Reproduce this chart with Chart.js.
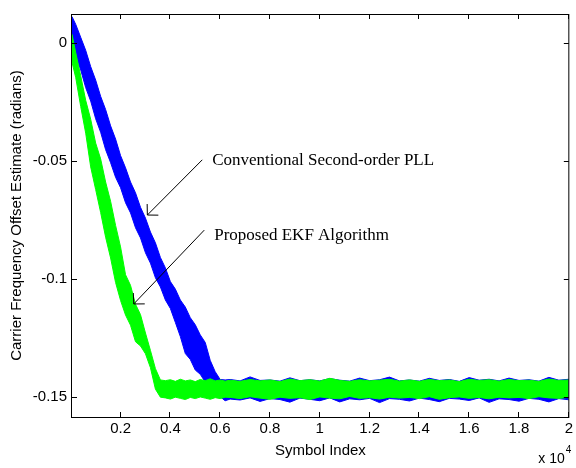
<!DOCTYPE html>
<html>
<head>
<meta charset="utf-8">
<script src="https://cdn.jsdelivr.net/npm/chart.js@4.4.1/dist/chart.umd.min.js"></script>
<style>
  html, body { margin: 0; padding: 0; background: #fff; }
</style>
</head>
<body>
<canvas id="offset-chart" width="576" height="468"></canvas>
<script>
// symbol index grid (dense while converging, coarser once settled)
const SYMBOL_INDEX = [
  50, 200, 400, 600, 800, 1000, 1200, 1400, 1600, 1800, 2000, 2200, 2400, 2600, 2800, 3000,
  3200, 3400, 3600, 3800, 4000, 4200, 4400, 4600, 4800, 5000, 5200, 5400, 5600, 5800, 6000, 6200,
  6400, 6800, 7200, 7600, 8000, 8400, 8800, 9200, 9600, 10000, 10400, 10800, 11200, 11600, 12000,
  12400, 12800, 13200, 13600, 14000, 14400, 14800, 15200, 15600, 16000, 16400, 16800, 17200, 17600,
  18000, 18400, 18800, 19200, 19600, 20000
];

// noisy band of the conventional PLL estimate: upper and lower edge
const PLL_UPPER = [
  0.0113, 0.0080, 0.0025, -0.0030, -0.0099, -0.0156, -0.0225, -0.0281, -0.0350, -0.0406, -0.0476,
  -0.0528, -0.0588, -0.0634, -0.0695, -0.0741, -0.0800, -0.0846, -0.0908, -0.0952, -0.1010, -0.1042,
  -0.1088, -0.1118, -0.1163, -0.1193, -0.1236, -0.1268, -0.1344, -0.1392, -0.1425, -0.1427,
  -0.1425, -0.1431, -0.1414, -0.1429, -0.1427, -0.1432, -0.1418, -0.1430, -0.1426, -0.1431, -0.1421,
  -0.1428, -0.1432, -0.1419, -0.1430, -0.1426, -0.1415, -0.1431, -0.1427, -0.1432, -0.1420, -0.1429,
  -0.1425, -0.1433, -0.1417, -0.1428, -0.1424, -0.1431, -0.1419, -0.1429, -0.1426, -0.1432, -0.1416,
  -0.1428, -0.1424
];
const PLL_LOWER = [
  -0.0004, -0.0056, -0.0113, -0.0188, -0.0245, -0.0320, -0.0377, -0.0451, -0.0506, -0.0568, -0.0612,
  -0.0676, -0.0719, -0.0782, -0.0825, -0.0888, -0.0932, -0.0994, -0.1033, -0.1088, -0.1124, -0.1183,
  -0.1243, -0.1315, -0.1340, -0.1385, -0.1403, -0.1436, -0.1450, -0.1480, -0.1498, -0.1515,
  -0.1508, -0.1512, -0.1503, -0.1518, -0.1506, -0.1510, -0.1521, -0.1504, -0.1509, -0.1515, -0.1503,
  -0.1520, -0.1507, -0.1511, -0.1505, -0.1523, -0.1506, -0.1509, -0.1516, -0.1504, -0.1510, -0.1519,
  -0.1505, -0.1508, -0.1514, -0.1503, -0.1522, -0.1507, -0.1510, -0.1517, -0.1505, -0.1509, -0.1520,
  -0.1506, -0.1511
];

// noisy band of the proposed EKF estimate: upper and lower edge
const EKF_UPPER = [
  0.0038, -0.0040, -0.0138, -0.0242, -0.0322, -0.0423, -0.0490, -0.0588, -0.0670, -0.0772, -0.0863,
  -0.0981, -0.1026, -0.1106, -0.1150, -0.1228, -0.1302, -0.1379, -0.1427,
  -0.1430, -0.1426, -0.1433, -0.1424, -0.1431, -0.1427, -0.1434, -0.1425, -0.1430, -0.1422, -0.1431,
  -0.1427, -0.1432,
  -0.1428, -0.1433, -0.1425, -0.1431, -0.1427, -0.1434, -0.1423, -0.1430, -0.1426, -0.1432, -0.1420,
  -0.1429, -0.1433, -0.1426, -0.1431, -0.1428, -0.1424, -0.1432, -0.1427, -0.1433, -0.1425, -0.1430,
  -0.1427, -0.1434, -0.1424, -0.1429, -0.1426, -0.1432, -0.1425, -0.1430, -0.1428, -0.1433, -0.1423,
  -0.1429, -0.1427
];
const EKF_LOWER = [
  -0.0080, -0.0146, -0.0268, -0.0381, -0.0524, -0.0620, -0.0717, -0.0822, -0.0910, -0.1014, -0.1090,
  -0.1152, -0.1195, -0.1265, -0.1283, -0.1316, -0.1375, -0.1466, -0.1500,
  -0.1503, -0.1508, -0.1500, -0.1505, -0.1510, -0.1501, -0.1506, -0.1499, -0.1504, -0.1509, -0.1502,
  -0.1506, -0.1500,
  -0.1501, -0.1506, -0.1498, -0.1504, -0.1509, -0.1500, -0.1505, -0.1502, -0.1510, -0.1499, -0.1504,
  -0.1507, -0.1497, -0.1505, -0.1502, -0.1508, -0.1500, -0.1504, -0.1501, -0.1506, -0.1498, -0.1509,
  -0.1502, -0.1499, -0.1505, -0.1501, -0.1507, -0.1500, -0.1503, -0.1501, -0.1506, -0.1498, -0.1503,
  -0.1505, -0.1501
];

const X_TICKS = [2000, 4000, 6000, 8000, 10000, 12000, 14000, 16000, 18000, 20000];
const Y_TICKS = [-0.15, -0.1, -0.05, 0];
const X_RANGE = [50, 20000];
const Y_RANGE = [-0.1584, 0.0124];

// text callouts: label position and arrow start / tip, in data units
const CALLOUT_TEXT = ['Conventional Second-order PLL', 'Proposed EKF Algorithm'];
const CALLOUT_LABEL = [[5680, -0.0499], [5760, -0.0813]];
const CALLOUT_FROM = [[5281, -0.0494], [5361, -0.0792]];
const CALLOUT_TIP = [[3076, -0.0728], [2529, -0.1105]];

const BLUE = '#0000ff';
const GREEN = '#00ff00';
const SANS = '"Liberation Sans", Arial, sans-serif';
const SERIF = '"Liberation Serif", "Times New Roman", serif';

const toPoints = (ys) => ys.map((v, i) => ({ x: SYMBOL_INDEX[i], y: v }));

function bandEdge(label, ys, color, fill) {
  return {
    label,
    data: toPoints(ys),
    borderColor: color,
    backgroundColor: color,
    borderWidth: 1,
    pointRadius: 0,
    tension: 0,
    fill,
  };
}

// box + inward ticks, callouts and the exponent note (MATLAB look)
const matlabFramePlugin = {
  id: 'matlabFrame',
  afterDraw(chart) {
    const { ctx, chartArea: a, scales: { x, y } } = chart;
    const tickLen = 5;
    ctx.save();
    ctx.strokeStyle = '#000';
    ctx.lineWidth = 1;
    ctx.strokeRect(a.left - 0.5, a.top + 0.5, a.right - a.left + 0.5, a.bottom - a.top);
    ctx.beginPath();
    X_TICKS.forEach(v => {
      const px = Math.round(x.getPixelForValue(v)) - 0.5;
      ctx.moveTo(px, a.bottom); ctx.lineTo(px, a.bottom - tickLen);
      ctx.moveTo(px, a.top); ctx.lineTo(px, a.top + tickLen);
    });
    Y_TICKS.forEach(v => {
      const py = Math.round(y.getPixelForValue(v)) + 0.5;
      ctx.moveTo(a.left, py); ctx.lineTo(a.left + tickLen, py);
      ctx.moveTo(a.right, py); ctx.lineTo(a.right - tickLen, py);
    });
    ctx.stroke();

    // callouts
    ctx.fillStyle = '#000';
    ctx.font = '17px ' + SERIF;
    ctx.textBaseline = 'middle';
    ctx.textAlign = 'left';
    CALLOUT_TEXT.forEach((txt, i) => {
      ctx.fillText(txt, x.getPixelForValue(CALLOUT_LABEL[i][0]), y.getPixelForValue(CALLOUT_LABEL[i][1]));
      const x0 = x.getPixelForValue(CALLOUT_FROM[i][0]);
      const y0 = y.getPixelForValue(CALLOUT_FROM[i][1]);
      const x1 = x.getPixelForValue(CALLOUT_TIP[i][0]);
      const y1 = y.getPixelForValue(CALLOUT_TIP[i][1]);
      const ang = Math.atan2(y0 - y1, x0 - x1);
      const head = 11;
      ctx.beginPath();
      ctx.moveTo(x0, y0); ctx.lineTo(x1, y1);
      ctx.moveTo(x1 + head * Math.cos(ang - 0.8), y1 + head * Math.sin(ang - 0.8));
      ctx.lineTo(x1, y1);
      ctx.lineTo(x1 + head * Math.cos(ang + 0.8), y1 + head * Math.sin(ang + 0.8));
      ctx.stroke();
    });

    // x 10^4
    ctx.font = '14px ' + SANS;
    ctx.textBaseline = 'alphabetic';
    ctx.textAlign = 'right';
    ctx.fillText('x 10', a.right - 4, a.bottom + 46);
    ctx.font = '10px ' + SANS;
    ctx.textAlign = 'left';
    ctx.fillText('4', a.right - 3, a.bottom + 36);
    ctx.restore();
  }
};

const offsetChartConfig = {
  type: 'line',
  data: {
    datasets: [
      bandEdge('Proposed EKF Algorithm', EKF_UPPER, GREEN, '+1'),
      bandEdge('EKF lower', EKF_LOWER, GREEN, false),
      bandEdge('Conventional Second-order PLL', PLL_UPPER, BLUE, '+1'),
      bandEdge('PLL lower', PLL_LOWER, BLUE, false),
    ],
  },
  options: {
    responsive: false,
    animation: false,
    layout: { padding: { top: 10, right: 4, left: 0, bottom: 0 } },
    plugins: {
      legend: { display: false },
      tooltip: { enabled: false },
    },
    scales: {
      x: {
        type: 'linear',
        min: X_RANGE[0],
        max: X_RANGE[1],
        afterFit(scale) { scale.height = 51; },
        afterBuildTicks(scale) { scale.ticks = X_TICKS.map(v => ({ value: v })); },
        grid: { display: false, drawTicks: false },
        border: { display: false },
        ticks: {
          color: '#000',
          padding: 3,
          maxRotation: 0,
          autoSkip: false,
          font: { family: SANS, size: 15 },
          callback: (v) => String(Number((v / 1e4).toFixed(1))),
        },
        title: {
          display: true,
          text: 'Symbol Index',
          color: '#000',
          padding: { top: 0, bottom: 8 },
          font: { family: SANS, size: 15 },
        },
      },
      y: {
        type: 'linear',
        min: Y_RANGE[0],
        max: Y_RANGE[1],
        afterFit(scale) { scale.width = 72; },
        afterBuildTicks(scale) { scale.ticks = Y_TICKS.map(v => ({ value: v })); },
        grid: { display: false, drawTicks: false },
        border: { display: false },
        ticks: {
          color: '#000',
          padding: 5,
          autoSkip: false,
          font: { family: SANS, size: 15 },
          callback: (v) => String(v),
        },
        title: {
          display: true,
          text: 'Carrier Frequency Offset Estimate (radians)',
          color: '#000',
          padding: { top: 8, bottom: 0 },
          font: { family: SANS, size: 15 },
        },
      },
    },
  },
  plugins: [matlabFramePlugin],
};

const offsetChart = new Chart(document.getElementById('offset-chart'), offsetChartConfig);
</script>
</body>
</html>
